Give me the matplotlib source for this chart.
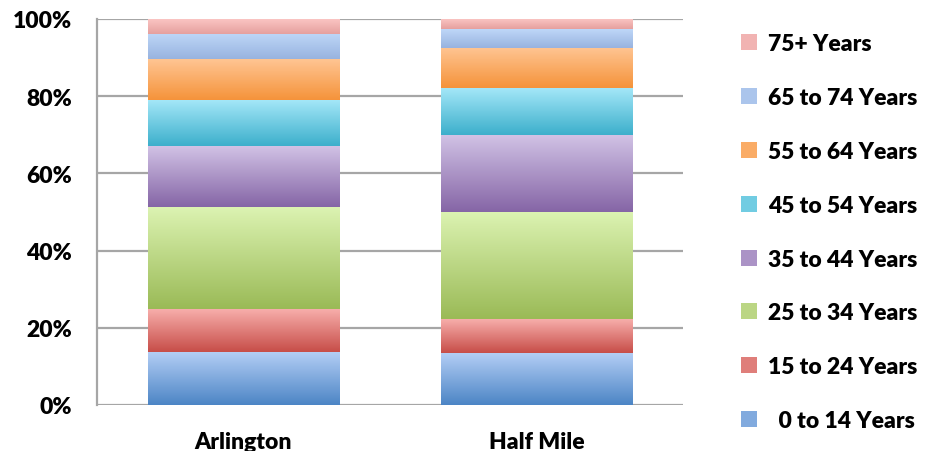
import numpy as np
import matplotlib.pyplot as plt
from matplotlib.colors import LinearSegmentedColormap, to_rgb
from matplotlib.patches import Patch

plt.rcParams['font.family'] = ['Lato', 'DejaVu Sans']
plt.rcParams['font.weight'] = 'bold'

# Share of population per age group (percent), bottom to top
places = ['Arlington', 'Half Mile']
age_groups = ['0 to 14 Years', '15 to 24 Years', '25 to 34 Years', '35 to 44 Years',
              '45 to 54 Years', '55 to 64 Years', '65 to 74 Years', '75+ Years']
arlington = [13.8, 11.1, 26.4, 15.8, 12.0, 10.5, 6.5, 3.9]
half_mile = [13.5, 8.8, 27.8, 19.8, 12.2, 10.4, 4.9, 2.6]

# (top colour, bottom colour) for the gradient of each group
grad_colors = [('#b5cff6', '#4c85c5'),
               ('#f7aeab', '#c74d48'),
               ('#dcf3b2', '#9aba56'),
               ('#d1c2e5', '#8565a6'),
               ('#a6e8f9', '#3cafcb'),
               ('#ffc593', '#f5933a'),
               ('#bed7f8', '#98b3df'),
               ('#fcc7c5', '#e5a09e')]

values = np.array([arlington, half_mile]).T  # shape (groups, places)

fig = plt.figure(figsize=(9.35, 4.52), dpi=100)
ax = fig.add_axes([0.1037, 0.1018, 0.6268, 0.854])

x = np.arange(len(places))
bottoms = np.zeros(len(places))
grad = np.linspace(0, 1, 256).reshape(-1, 1)
for i, grp in enumerate(age_groups):
    bars = ax.bar(x, values[i], 0.652, bottom=bottoms, color='none', linewidth=0, zorder=2)
    cmap = LinearSegmentedColormap.from_list('g%d' % i, [grad_colors[i][1], grad_colors[i][0]])
    for b in bars:
        x0, y0 = b.get_x(), b.get_y()
        im = ax.imshow(grad, extent=[x0, x0 + b.get_width(), y0, y0 + b.get_height()],
                       origin='lower', aspect='auto', cmap=cmap, zorder=2, interpolation='bilinear')
        im.set_clip_path(b)
    bottoms += values[i]

ax.set_xlim(-0.5, 1.5)
ax.set_ylim(0, 100)
ax.set_yticks(np.arange(0, 101, 20))
ax.set_yticklabels(['%d%%' % v for v in range(0, 101, 20)], fontsize=16.5, fontweight='heavy')
ax.set_xticks(x)
ax.set_xticklabels(places, fontsize=16.5, fontweight='heavy')
ax.tick_params(axis='y', length=0, pad=18)
ax.tick_params(axis='x', length=0, pad=19)
ax.yaxis.grid(True, color='#a6a6a6', linewidth=1.6, zorder=1)
ax.set_axisbelow(True)
for s in ['top', 'right', 'bottom']:
    ax.spines[s].set_visible(False)
ax.spines['left'].set_color('#a6a6a6')
ax.spines['left'].set_linewidth(1.6)

# legend, top group first; swatch uses the middle of the gradient
def mid(c):
    return tuple((np.array(to_rgb(c[0])) + np.array(to_rgb(c[1]))) / 2)

handles = [Patch(facecolor=mid(grad_colors[i]), edgecolor='none') for i in range(len(age_groups))][::-1]
labels = age_groups[::-1]
labels[-1] = '  ' + labels[-1]
leg = fig.legend(handles, labels, loc='upper left', bbox_to_anchor=(0.783, 0.944),
                 frameon=False, fontsize=16.5, handlelength=0.7, handleheight=0.7,
                 handletextpad=0.45, labelspacing=1.43, borderaxespad=0)
for t in leg.get_texts():
    t.set_fontweight('heavy')

fig.savefig('out.png', dpi=100)
